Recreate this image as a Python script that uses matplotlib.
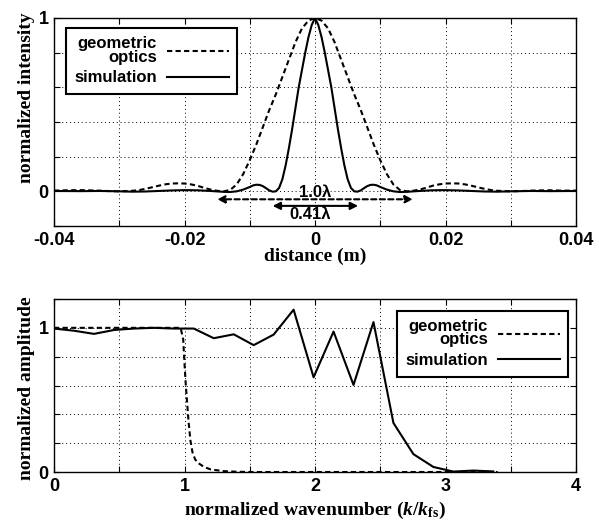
import matplotlib
matplotlib.use("Agg")
import matplotlib.pyplot as plt
from matplotlib.lines import Line2D

# ---------------- data: top panel (intensity vs distance) ----------------
dist_geo = [-0.040, -0.038, -0.036, -0.034, -0.032, -0.030, -0.028, -0.027, -0.026, -0.025,
            -0.024, -0.023, -0.022, -0.021, -0.020, -0.019, -0.018, -0.017, -0.016, -0.015,
            -0.014, -0.013, -0.012, -0.011, -0.010, -0.009, -0.008, -0.007, -0.006, -0.005,
            -0.004, -0.003, -0.002, -0.001, 0.000, 0.001, 0.002, 0.003, 0.004, 0.005,
            0.006, 0.007, 0.008, 0.009, 0.010, 0.011, 0.012, 0.013, 0.014, 0.015,
            0.016, 0.017, 0.018, 0.019, 0.020, 0.021, 0.022, 0.023, 0.024, 0.025,
            0.026, 0.027, 0.028, 0.030, 0.032, 0.034, 0.036, 0.038, 0.040]
int_geo = [0.004, 0.006, 0.007, 0.005, 0.002, 0.000, 0.003, 0.007, 0.014, 0.023,
           0.032, 0.040, 0.045, 0.046, 0.045, 0.040, 0.032, 0.020, 0.010, 0.003,
           0.000, 0.008, 0.040, 0.100, 0.180, 0.270, 0.370, 0.470, 0.560, 0.660,
           0.760, 0.860, 0.940, 0.985, 1.000, 0.985, 0.940, 0.860, 0.760, 0.660,
           0.560, 0.470, 0.370, 0.270, 0.180, 0.100, 0.040, 0.008, 0.000, 0.003,
           0.010, 0.020, 0.032, 0.040, 0.045, 0.046, 0.045, 0.040, 0.032, 0.023,
           0.014, 0.007, 0.003, 0.000, 0.002, 0.005, 0.006, 0.004, 0.004]

dist_sim = [-0.040, -0.036, -0.033, -0.030, -0.028, -0.026, -0.024, -0.022, -0.020, -0.018,
            -0.016, -0.014, -0.013, -0.012, -0.011, -0.010, -0.0095, -0.009, -0.0085, -0.008,
            -0.0075, -0.007, -0.0065, -0.006, -0.0055, -0.005, -0.0045, -0.004, -0.0035, -0.003,
            -0.0025, -0.002, -0.0015, -0.001, -0.0005, 0.0, 0.0005, 0.001, 0.0015, 0.002,
            0.0025, 0.003, 0.0035, 0.004, 0.0045, 0.005, 0.0055, 0.006, 0.0065, 0.007,
            0.0075, 0.008, 0.0085, 0.009, 0.0095, 0.010, 0.011, 0.012, 0.013, 0.014,
            0.016, 0.018, 0.020, 0.022, 0.024, 0.026, 0.028, 0.030, 0.033, 0.036, 0.040]
int_sim = [0.002, 0.001, 0.002, 0.000, -0.002, -0.001, 0.002, 0.005, 0.007, 0.006,
           0.002, -0.003, -0.004, 0.000, 0.010, 0.025, 0.034, 0.038, 0.037, 0.030,
           0.018, 0.005, -0.002, 0.000, 0.020, 0.070, 0.150, 0.250, 0.360, 0.480,
           0.600, 0.700, 0.800, 0.890, 0.960, 1.000, 0.960, 0.890, 0.800, 0.700,
           0.600, 0.480, 0.360, 0.250, 0.150, 0.070, 0.020, 0.000, -0.002, 0.005,
           0.018, 0.030, 0.037, 0.038, 0.034, 0.025, 0.010, 0.000, -0.004, -0.003,
           0.002, 0.006, 0.007, 0.005, 0.002, -0.001, -0.002, 0.000, 0.002, 0.001, 0.002]

# ---------------- data: bottom panel (amplitude vs wavenumber) ----------------
k_sim = [0.0, 0.153, 0.306, 0.459, 0.612, 0.765, 0.918, 1.071, 1.224, 1.377,
         1.530, 1.683, 1.836, 1.989, 2.142, 2.295, 2.448, 2.601, 2.754, 2.907,
         3.060, 3.213, 3.366]
amp_sim = [0.995, 0.980, 0.958, 0.985, 0.995, 1.000, 0.995, 0.995, 0.928, 0.955,
           0.880, 0.953, 1.126, 0.657, 0.974, 0.604, 1.040, 0.340, 0.124, 0.035,
           0.003, 0.010, 0.004]

k_geo = [0.0, 0.2, 0.4, 0.6, 0.8, 0.97, 0.99, 1.0, 1.01, 1.02, 1.03, 1.045, 1.06,
         1.08, 1.10, 1.15, 1.20, 1.30, 1.40, 1.50, 2.0, 2.5, 3.0, 3.4]
amp_geo = [1.0, 1.0, 1.0, 1.0, 1.0, 1.0, 0.92, 0.75, 0.60, 0.48, 0.36, 0.22, 0.14,
           0.09, 0.065, 0.035, 0.018, 0.006, 0.002, 0.0, 0.0, 0.0, 0.0, 0.0]

labels = ["geometric\noptics", "simulation"]

# ---------------- style ----------------
plt.rcParams['mathtext.fontset'] = 'custom'
plt.rcParams['mathtext.rm'] = 'Liberation Serif:bold'
plt.rcParams['mathtext.it'] = 'Liberation Serif:italic:bold'
plt.rcParams['mathtext.bf'] = 'Liberation Serif:bold'

SANS = 'Liberation Sans'
SERIF = 'Liberation Serif'
LW = 1.5
DASH = (2.5, 1.6)

fig = plt.figure(figsize=(5.99, 5.23), dpi=100)
ax1 = fig.add_axes([0.0902, 0.5679, 0.8714, 0.3977])
ax2 = fig.add_axes([0.0902, 0.0975, 0.8714, 0.3308])


def style_axes(ax):
    for s in ax.spines.values():
        s.set_linewidth(1.0)
        s.set_color('black')
    ax.tick_params(direction='in', length=4, width=0.8, top=True, right=True,
                   labelsize=13, pad=4)
    for lab in ax.get_xticklabels() + ax.get_yticklabels():
        lab.set_fontfamily(SANS)
        lab.set_fontweight('bold')
    ax.grid(True, linestyle=(0, (1, 3)), color='black', linewidth=0.7)
    ax.set_axisbelow(True)


# ---- top panel ----
ax1.plot(dist_geo, int_geo, color='black', lw=LW, dashes=DASH)
ax1.plot(dist_sim, int_sim, color='black', lw=LW)
ax1.set_xlim(-0.04, 0.04)
ax1.set_ylim(-0.2, 1.0)
xt1 = [-0.04, -0.03, -0.02, -0.01, 0.0, 0.01, 0.02, 0.03, 0.04]
ax1.set_xticks(xt1)
ax1.set_xticklabels(['-0.04', '', '-0.02', '', '0', '', '0.02', '', '0.04'])
yt1 = [-0.2, 0.0, 0.2, 0.4, 0.6, 0.8, 1.0]
ax1.set_yticks(yt1)
ax1.set_yticklabels(['', '0', '', '', '', '', '1'])
style_axes(ax1)
ax1.set_xlabel('distance (m)', fontfamily=SERIF, fontweight='bold', fontsize=14)
ax1.set_ylabel('normalized intensity', fontfamily=SERIF, fontweight='bold', fontsize=14)
ax1.xaxis.set_label_coords(0.5, -0.105)
ax1.yaxis.set_label_coords(-0.036, 0.615)

# width annotations
ax1.annotate('', xy=(-0.015, -0.046), xytext=(0.015, -0.046),
             arrowprops=dict(arrowstyle='<|-|>', color='black', lw=1.5,
                             linestyle=(0, (2.5, 1.6)), mutation_scale=11, shrinkA=0, shrinkB=0))
ax1.annotate('', xy=(-0.0065, -0.084), xytext=(0.0066, -0.084),
             arrowprops=dict(arrowstyle='<|-|>', color='black', lw=1.5,
                             mutation_scale=11, shrinkA=0, shrinkB=0))
ax1.text(0.0, -0.008, '1.0λ', ha='center', va='center', fontfamily=SANS,
         fontweight='bold', fontsize=12)
ax1.text(-0.0008, -0.132, '0.41λ', ha='center', va='center', fontfamily=SANS,
         fontweight='bold', fontsize=12)

# ---- bottom panel ----
ax2.plot(k_geo, amp_geo, color='black', lw=LW, dashes=DASH)
ax2.plot(k_sim, amp_sim, color='black', lw=LW)
ax2.set_xlim(0, 4)
ax2.set_ylim(0, 1.2)
ax2.set_xticks([0, 0.5, 1, 1.5, 2, 2.5, 3, 3.5, 4])
ax2.set_xticklabels(['0', '', '1', '', '2', '', '3', '', '4'])
ax2.set_yticks([0, 0.2, 0.4, 0.6, 0.8, 1.0, 1.2])
ax2.set_yticklabels(['0', '', '', '', '', '1', ''])
style_axes(ax2)
ax2.set_xlabel(r'normalized wavenumber ($k$/$k_{\mathrm{fs}}$)', fontfamily=SERIF,
               fontweight='bold', fontsize=14)
ax2.set_ylabel('normalized amplitude', fontfamily=SERIF, fontweight='bold', fontsize=14)
ax2.xaxis.set_label_coords(0.5, -0.16)
ax2.yaxis.set_label_coords(-0.036, 0.486)


def add_legend(ax, loc, anchor):
    handles = [Line2D([], [], color='black', lw=LW, dashes=DASH),
               Line2D([], [], color='black', lw=LW)]
    leg = ax.legend(handles, labels, loc=loc, bbox_to_anchor=anchor, markerfirst=False,
                    fancybox=False, framealpha=1, edgecolor='black', handlelength=3.7,
                    handletextpad=0.6, borderpad=0.5, labelspacing=0.35, borderaxespad=0,
                    prop={'family': SANS, 'weight': 'bold', 'size': 12})
    leg.get_frame().set_linewidth(1.5)
    for t in leg.get_texts():
        t.set_multialignment('right')
        t.set_linespacing(0.85)
    return leg


add_legend(ax1, 'upper left', (0.023, 0.952))
add_legend(ax2, 'upper right', (0.985, 0.931))

fig.savefig('out.png', dpi=100)
